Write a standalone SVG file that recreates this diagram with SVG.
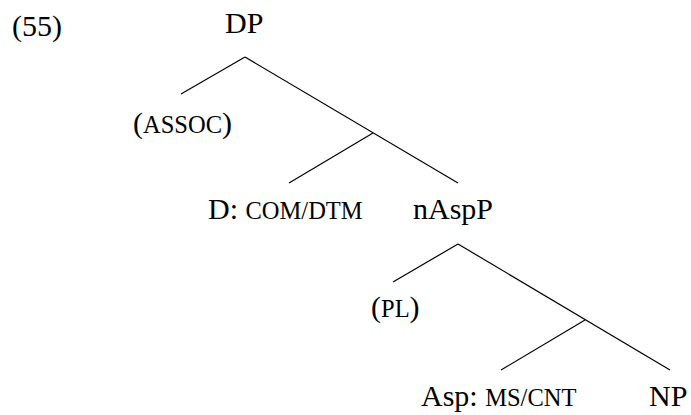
<svg xmlns="http://www.w3.org/2000/svg" width="691" height="415" viewBox="0 0 691 415">
<rect width="691" height="415" fill="#fff"/>
<text id="ex" x="12" y="36" font-size="30" font-family="Liberation Serif">(55)</text>
<g id="connectors" stroke="#000" stroke-width="1.2">
<line x1="245" y1="57" x2="181" y2="94"/>
<line x1="245" y1="57" x2="458" y2="183"/>
<line x1="373" y1="133" x2="289" y2="183"/>
<line x1="458" y1="244" x2="393" y2="282"/>
<line x1="458" y1="244" x2="670" y2="370"/>
<line x1="585" y1="320" x2="501" y2="370"/>
</g>
<g id="dp"><text x="225" y="33" font-size="30" font-family="Liberation Serif">DP</text></g>
<g id="assoc"><text x="133" y="133" font-size="30" font-family="Liberation Serif">(<tspan font-size="24.5">ASSOC</tspan>)</text></g>
<g id="d"><text x="208" y="219" font-size="30" font-family="Liberation Serif">D: <tspan font-size="24.5">COM/DTM</tspan></text></g>
<g id="naspp"><text x="413" y="219" font-size="30" font-family="Liberation Serif">nAspP</text></g>
<g id="pl"><text x="371" y="317" font-size="30" font-family="Liberation Serif">(<tspan font-size="24.5">PL</tspan>)</text></g>
<g id="asp"><text x="421" y="406" font-size="30" font-family="Liberation Serif">Asp: <tspan font-size="24.5">MS/CNT</tspan></text></g>
<g id="np"><text x="649" y="406" font-size="30" font-family="Liberation Serif">NP</text></g>
</svg>
